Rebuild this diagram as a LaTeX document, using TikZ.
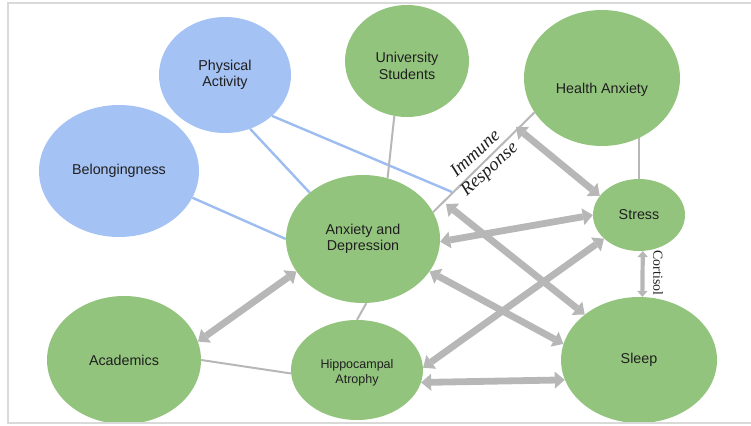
\documentclass[tikz,border=0pt]{standalone}
\usepackage{fontspec}
\setmainfont{Liberation Sans}
\newfontfamily\serifit{Liberation Serif}
\usetikzlibrary{arrows.meta,shapes.geometric}
\definecolor{gnode}{HTML}{93C47D}
\definecolor{bnode}{HTML}{A4C2F4}
\definecolor{garrow}{HTML}{B7B7B7}
\definecolor{bline}{HTML}{9DBDF0}
\definecolor{framecol}{HTML}{D9D9D9}
\definecolor{txt}{HTML}{1F1F1F}
\pgfdeclarelayer{bg}
\pgfsetlayers{bg,main}
\begin{document}
\begin{tikzpicture}[x=1pt,y=-1pt,
  ell/.style={ellipse, inner sep=0pt, text=txt, font=\fontsize{14.3}{16.5}\selectfont, align=center},
  gnd/.style={ell, fill=gnode},
  bnd/.style={ell, fill=bnode},
  lbl/.style={text=txt, font=\fontsize{14.3}{16.5}\selectfont, align=center, inner sep=0pt},
  grayline/.style={draw=garrow, line width=2pt},
  blueline/.style={draw=bline, line width=2.4pt},
  bigarrow/.style={draw=garrow, line width=6.8pt, <->, >={Triangle[length=10pt,width=17pt,line width=0pt]}},
  smallarrow/.style={draw=garrow, line width=4.2pt, <->, >={Triangle[length=6pt,width=10.5pt,line width=0pt]}},
  serlbl/.style={text=txt, inner sep=0pt, align=center}
]
\useasboundingbox (0,0) rectangle (751,425);

% nodes
\node[bnd, minimum width=132pt, minimum height=116pt] (phys) at (225,75) {Physical\\Activity};
\node[gnd, minimum width=124pt, minimum height=112pt,
      label={[lbl, yshift=-5pt]center:University\\Students}] (univ) at (407,61) {};
\node[gnd, minimum width=156pt, minimum height=136pt,
      label={[lbl, yshift=-12pt]center:Health Anxiety}] (health) at (602,78) {};
\node[bnd, minimum width=160pt, minimum height=132pt] (belong) at (119,171) {Belongingness};
\node[gnd, minimum width=154pt, minimum height=128pt] (ad) at (363,239) {Anxiety and\\Depression};
\node[gnd, minimum width=92pt, minimum height=72pt] (stress) at (639,215) {Stress};
\node[gnd, minimum width=154pt, minimum height=128pt] (acad) at (124,360) {Academics};
\node[gnd, minimum width=132pt, minimum height=100pt,
      label={[lbl, yshift=-3pt, font=\fontsize{12.5}{14.5}\selectfont]center:Hippocampal\\Atrophy}] (hippo) at (357,370) {};
\node[gnd, minimum width=156pt, minimum height=126pt] (sleep) at (639,360) {Sleep};

% free ends
\coordinate (blend) at (452,192);
\coordinate (hsfree) at (516,127);
\coordinate (adfree) at (446,204);

% thin connectors
\begin{pgfonlayer}{bg}
\draw[blueline] (phys.-65.6) -- (ad.139.6);
\draw[blueline] (phys.-41.2) -- (blend);
\draw[blueline] (belong.-20.5) -- (ad.180);
\draw[grayline] (univ.-103) -- (ad.68.8);
\draw[grayline] (health.-153) -- (ad.21);
\draw[grayline] (stress) -- (stress |- health);
\draw[grayline] (ad.-87) -- (hippo.90);
\draw[grayline] (acad.0) -- (hippo.183);
\end{pgfonlayer}

% thick arrows
\draw[bigarrow] (acad.14.8) -- (ad.206.6);
\draw[bigarrow] (ad.-2) -- (stress.180);
\draw[bigarrow] (hsfree) -- (stress.154.7);
\draw[bigarrow] (sleep.140.5) -- (adfree);
\draw[bigarrow] (ad.-26.9) -- (sleep.168);
\draw[bigarrow] (hippo.2.7) -- (stress.214.4);
\draw[bigarrow] (hippo.-11.3) -- (sleep.195.5);
\draw[smallarrow] (stress.-84) -- (sleep.87);

% labels
\node[serlbl, rotate=42, font=\serifit\itshape\fontsize{18.5}{21}\selectfont] (immune) at (483,162) {Immune\\Response};
\node[serlbl, rotate=-90, font=\serifit\fontsize{13.8}{15}\selectfont] (cortisol) at (658,273) {Cortisol};

% frame
\draw[draw=framecol, line width=2pt] (751,3) -- (8,3) -- (8,423) -- (751,423);
\end{tikzpicture}
\end{document}
